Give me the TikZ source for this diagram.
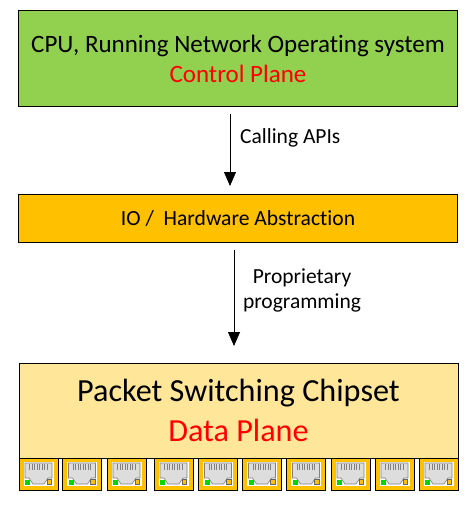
\documentclass[tikz,border=0pt]{standalone}
\usepackage{fontspec}
\setmainfont{Carlito}[RawFeature={-liga}]
\usetikzlibrary{positioning}
\usetikzlibrary{arrows.meta}
\usetikzlibrary{calc}
\definecolor{planeGreen}{HTML}{92D050}
\definecolor{portOrange}{HTML}{FFC000}
\definecolor{chipYellow}{HTML}{FFE699}
\definecolor{jackGrey}{HTML}{DDDDDD}
\tikzset{%
	% Specifications for style of nodes:
	base/.style = {rectangle, draw=black, line width=0.9pt, inner sep=0pt,
		text centered, align=center},
	cpuBox/.style = {base, fill=planeGreen, minimum width=439pt, minimum height=96pt, font=\fontsize{25}{30}\selectfont},
	ioBox/.style = {base, fill=portOrange, minimum width=439pt, minimum height=48pt, font=\fontsize{21.6}{26}\selectfont},
	chipBox/.style = {base, fill=chipYellow, minimum width=439pt, minimum height=95pt, font=\fontsize{32.2}{40}\selectfont},
	portBox/.style = {base, fill=portOrange, minimum width=39pt, minimum height=32pt},
	edgeLabel/.style = {align=center, inner sep=0pt, font=\fontsize{21.5}{25}\selectfont},
	planeArrow/.style = {-{Triangle[length=14pt, width=12pt]}, line width=0.8pt},
}
% one RJ45 jack inside a port box
\newcommand{\jack}[1]{%
	\fill[white] ($(#1.center)+(-15,-12.5)$) rectangle ($(#1.center)+(15,11.5)$);
	\fill[jackGrey, draw=gray, line width=0.6pt] ($(#1.center)+(-13.5,-11)$) -- ++(27,0) -- ++(0,15) -- ++(-4,0) -- ++(-4,6) -- ++(-11,0) -- ++(-4,-6) -- ++(-4,0) -- cycle;
	\foreach \dx in {-9,-6.5,...,9.5}
		\draw[gray, line width=0.9pt] ($(#1.center)+(\dx,-10.5)$) -- ++(0,6);
	\fill[green!85!black] ($(#1.center)+(-13.5,5.5)$) rectangle ++(5,5);
	\fill[portOrange, draw=black!60, line width=0.3pt] ($(#1.center)+(8.5,5.5)$) rectangle ++(4.5,5);
}
\begin{document}
\begin{tikzpicture}[x=1pt, y=-1pt]
	\useasboundingbox (0,0) rectangle (472,509);
	
	\node (cpu) [cpuBox] at (238,58.5) {CPU, Running Network Operating system\\ \textcolor{red}{Control Plane}};
	\node (io) [ioBox] at (238,218) {IO /\ \ Hardware Abstraction};
	\node (chip) [chipBox] at (238.5,410.5) {Packet Switching Chipset\\ \textcolor{red}{Data Plane}};
	
	\coordinate (cpuOut) at (230,114);
	\coordinate (ioIn) at (230,186);
	\draw[planeArrow] (cpuOut) -- (ioIn);
	\node (apis) [edgeLabel, anchor=west] at (240,137.5) {Calling APIs};
	
	\coordinate (ioOut) at (234,250);
	\coordinate (chipIn) at (234,346);
	\draw[planeArrow] (ioOut) -- (chipIn);
	\node (prog) [edgeLabel] at (302,290) {Proprietary\\ programming};
	
	\foreach \name/\cx in {p1/38.5, p2/82, p3/126.5, p4/173.5, p5/218, p6/262, p7/306, p8/350.5, p9/394.5, p10/438.5} {
		\node (\name) [portBox] at (\cx,474) {};
		\jack{\name}
	}
\end{tikzpicture}
\end{document}
